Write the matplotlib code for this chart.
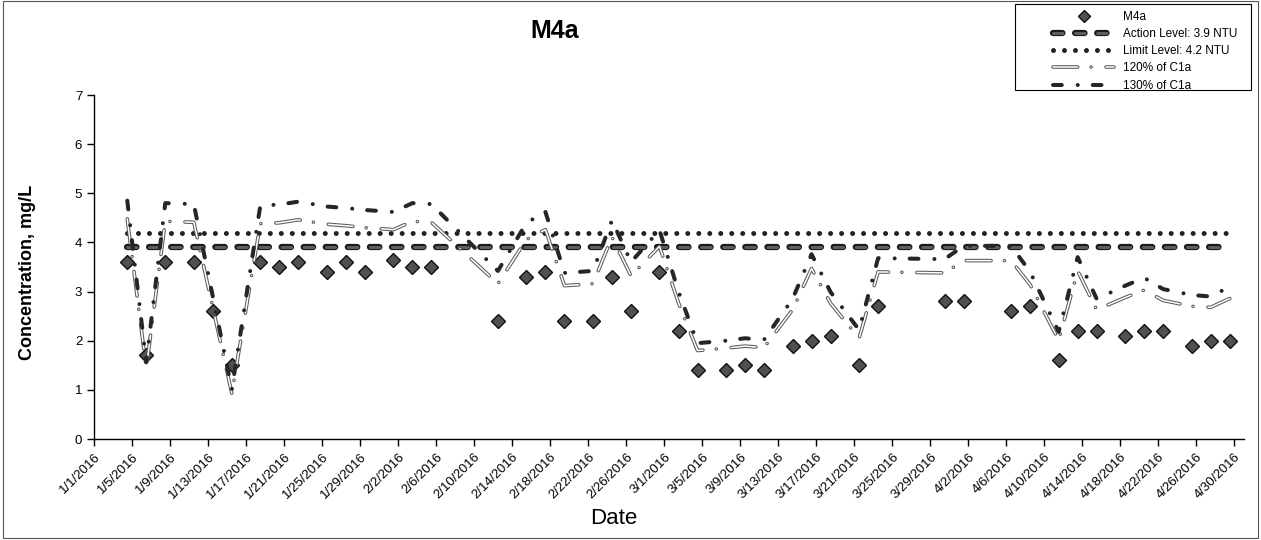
import matplotlib
matplotlib.use('Agg')
import matplotlib.pyplot as plt
import matplotlib.dates as mdates
import matplotlib.patheffects as pe
from matplotlib.patches import Rectangle
import pandas as pd

plt.rcParams['font.family'] = ['Liberation Sans', 'DejaVu Sans']
plt.rcParams['lines.scale_dashes'] = False

# ---------------- data ----------------
dates = ['2016-01-04', '2016-01-06', '2016-01-08', '2016-01-11', '2016-01-13', '2016-01-15',
         '2016-01-18', '2016-01-20', '2016-01-22', '2016-01-25', '2016-01-27', '2016-01-29',
         '2016-02-01', '2016-02-03', '2016-02-05', '2016-02-12', '2016-02-15', '2016-02-17',
         '2016-02-19', '2016-02-22', '2016-02-24', '2016-02-26', '2016-02-29', '2016-03-02',
         '2016-03-04', '2016-03-07', '2016-03-09', '2016-03-11', '2016-03-14', '2016-03-16',
         '2016-03-18', '2016-03-21', '2016-03-23', '2016-03-30', '2016-04-01', '2016-04-06',
         '2016-04-08', '2016-04-11', '2016-04-13', '2016-04-15', '2016-04-18', '2016-04-20',
         '2016-04-22', '2016-04-25', '2016-04-27', '2016-04-29']
m4a = [3.6, 1.7, 3.6, 3.6, 2.6, 1.5,
       3.6, 3.5, 3.6, 3.4, 3.6, 3.4,
       3.65, 3.5, 3.5, 2.4, 3.3, 3.4,
       2.4, 2.4, 3.3, 2.6, 3.4, 2.2,
       1.4, 1.4, 1.5, 1.4, 1.9, 2.0,
       2.1, 1.5, 2.7, 2.8, 2.8, 2.6,
       2.7, 1.6, 2.2, 2.2, 2.1, 2.2,
       2.2, 1.9, 2.0, 2.0]
c1a_130 = [4.85, 1.56, 4.80, 4.78, 2.90, 1.01,
           4.75, 4.77, 4.83, 4.73, 4.70, 4.66,
           4.62, 4.80, 4.78, 3.42, 4.40, 4.62,
           3.38, 3.42, 4.45, 3.60, 4.25, 3.00,
           1.95, 2.00, 2.05, 2.02, 2.85, 3.76,
           2.99, 2.22, 3.68, 3.66, 3.93, 3.93,
           3.40, 2.18, 3.70, 2.85, 3.12, 3.28,
           3.05, 2.93, 2.90, 3.10]
c1a_120 = [4.48, 1.44, 4.43, 4.41, 2.68, 0.93,
           4.38, 4.40, 4.46, 4.37, 4.34, 4.30,
           4.26, 4.43, 4.41, 3.16, 4.06, 4.26,
           3.12, 3.16, 4.11, 3.32, 3.92, 2.77,
           1.80, 1.85, 1.89, 1.86, 2.63, 3.47,
           2.76, 2.05, 3.40, 3.38, 3.63, 3.63,
           3.14, 2.01, 3.42, 2.63, 2.88, 3.03,
           2.82, 2.70, 2.68, 2.86]
action_level = 3.9
limit_level = 4.2
labels = ['M4a', 'Action Level: 3.9 NTU', 'Limit Level: 4.2 NTU', '120% of C1a', '130% of C1a']
tick_dates = pd.date_range('2016-01-01', '2016-04-30', freq='4D')
tick_labels = [f'{d.month}/{d.day}/{d.year}' for d in tick_dates]
y_ticks = list(range(0, 8))

# ---------------- figure ----------------
W, H = 1261, 540
fig = plt.figure(figsize=(W / 100, H / 100), dpi=100)
ax = fig.add_axes([94 / W, 101 / H, 1150 / W, 344 / H])

x = mdates.date2num(pd.to_datetime(dates))
half_day = 0.5
x0 = mdates.date2num(pd.Timestamp('2016-01-01')) - half_day
x1 = mdates.date2num(pd.Timestamp('2016-05-01')) - half_day

l_m4a, = ax.plot(x, m4a, ls='none', marker='D', ms=7.4, mfc='#505050', mec='#111111',
                 mew=1.0, zorder=3)
l_act, = ax.plot([x[0], x[-1]], [action_level, action_level], color='#5e5e5e', lw=2.2,
                 ls=(0, (6.8, 9.1)), dash_capstyle='round', zorder=4,
                 path_effects=[pe.Stroke(linewidth=4.5, foreground='#1a1a1a'),
                               pe.Normal()])
l_lim, = ax.plot([x[0], x[-1]], [limit_level, limit_level], color='#222222', lw=3.6,
                 ls=(0, (0.01, 7.9)), dash_capstyle='round', zorder=4)
l_120, = ax.plot(x, c1a_120, color='white', lw=1.1, ls=(0, (17.8, 9.6, 0.01, 10.8)),
                 dash_capstyle='round', zorder=5,
                 path_effects=[pe.Stroke(linewidth=2.6, foreground='#5a5a5a'), pe.Normal()])
l_130, = ax.plot(x, c1a_130, color='#262626', lw=2.9, ls=(0, (6.3, 11.5, 0.01, 10.8)),
                 dash_capstyle='round', zorder=6)

ax.set_xlim(x0, x1)
ax.set_ylim(0, 7)
ax.set_xticks(mdates.date2num(tick_dates) - half_day)
ax.set_xticklabels(tick_labels, rotation=45, ha='right', rotation_mode='anchor', fontsize=9.5)
ax.set_yticks(y_ticks)
ax.set_yticklabels([str(v) for v in y_ticks], fontsize=9.5)
ax.tick_params(direction='out', length=5, width=1, colors='black')
for s in ['top', 'right']:
    ax.spines[s].set_visible(False)
for s in ['left', 'bottom']:
    ax.spines[s].set_linewidth(1.0)
    ax.spines[s].set_color('black')

fig.text(555 / W, 1 - 31 / H, 'M4a', ha='center', va='center', fontsize=18, weight='bold')
fig.text(28 / W, 1 - 272 / H, 'Concentration, mg/L', ha='center', va='center',
         rotation=90, fontsize=13, weight='bold')
fig.text(614 / W, 1 - 518 / H, 'Date', ha='center', va='center', fontsize=16)

leg = fig.legend([l_m4a, l_act, l_lim, l_120, l_130], labels, loc='upper left',
                 bbox_to_anchor=(1047 / W, 1 - 5 / H), frameon=False, fontsize=8.5,
                 borderpad=0, handlelength=5.2, handletextpad=0.75, labelspacing=0.44,
                 markerscale=0.8)
fig.add_artist(Rectangle((1015 / W, 1 - 90 / H), 236 / W, 86 / H, transform=fig.transFigure,
                         fill=False, ec='black', lw=0.8))
fig.add_artist(Rectangle((3 / W, 2 / H), 1255 / W, 537 / H, transform=fig.transFigure,
                         fill=False, ec='#555555', lw=0.8))

fig.savefig('out.png', dpi=100)
